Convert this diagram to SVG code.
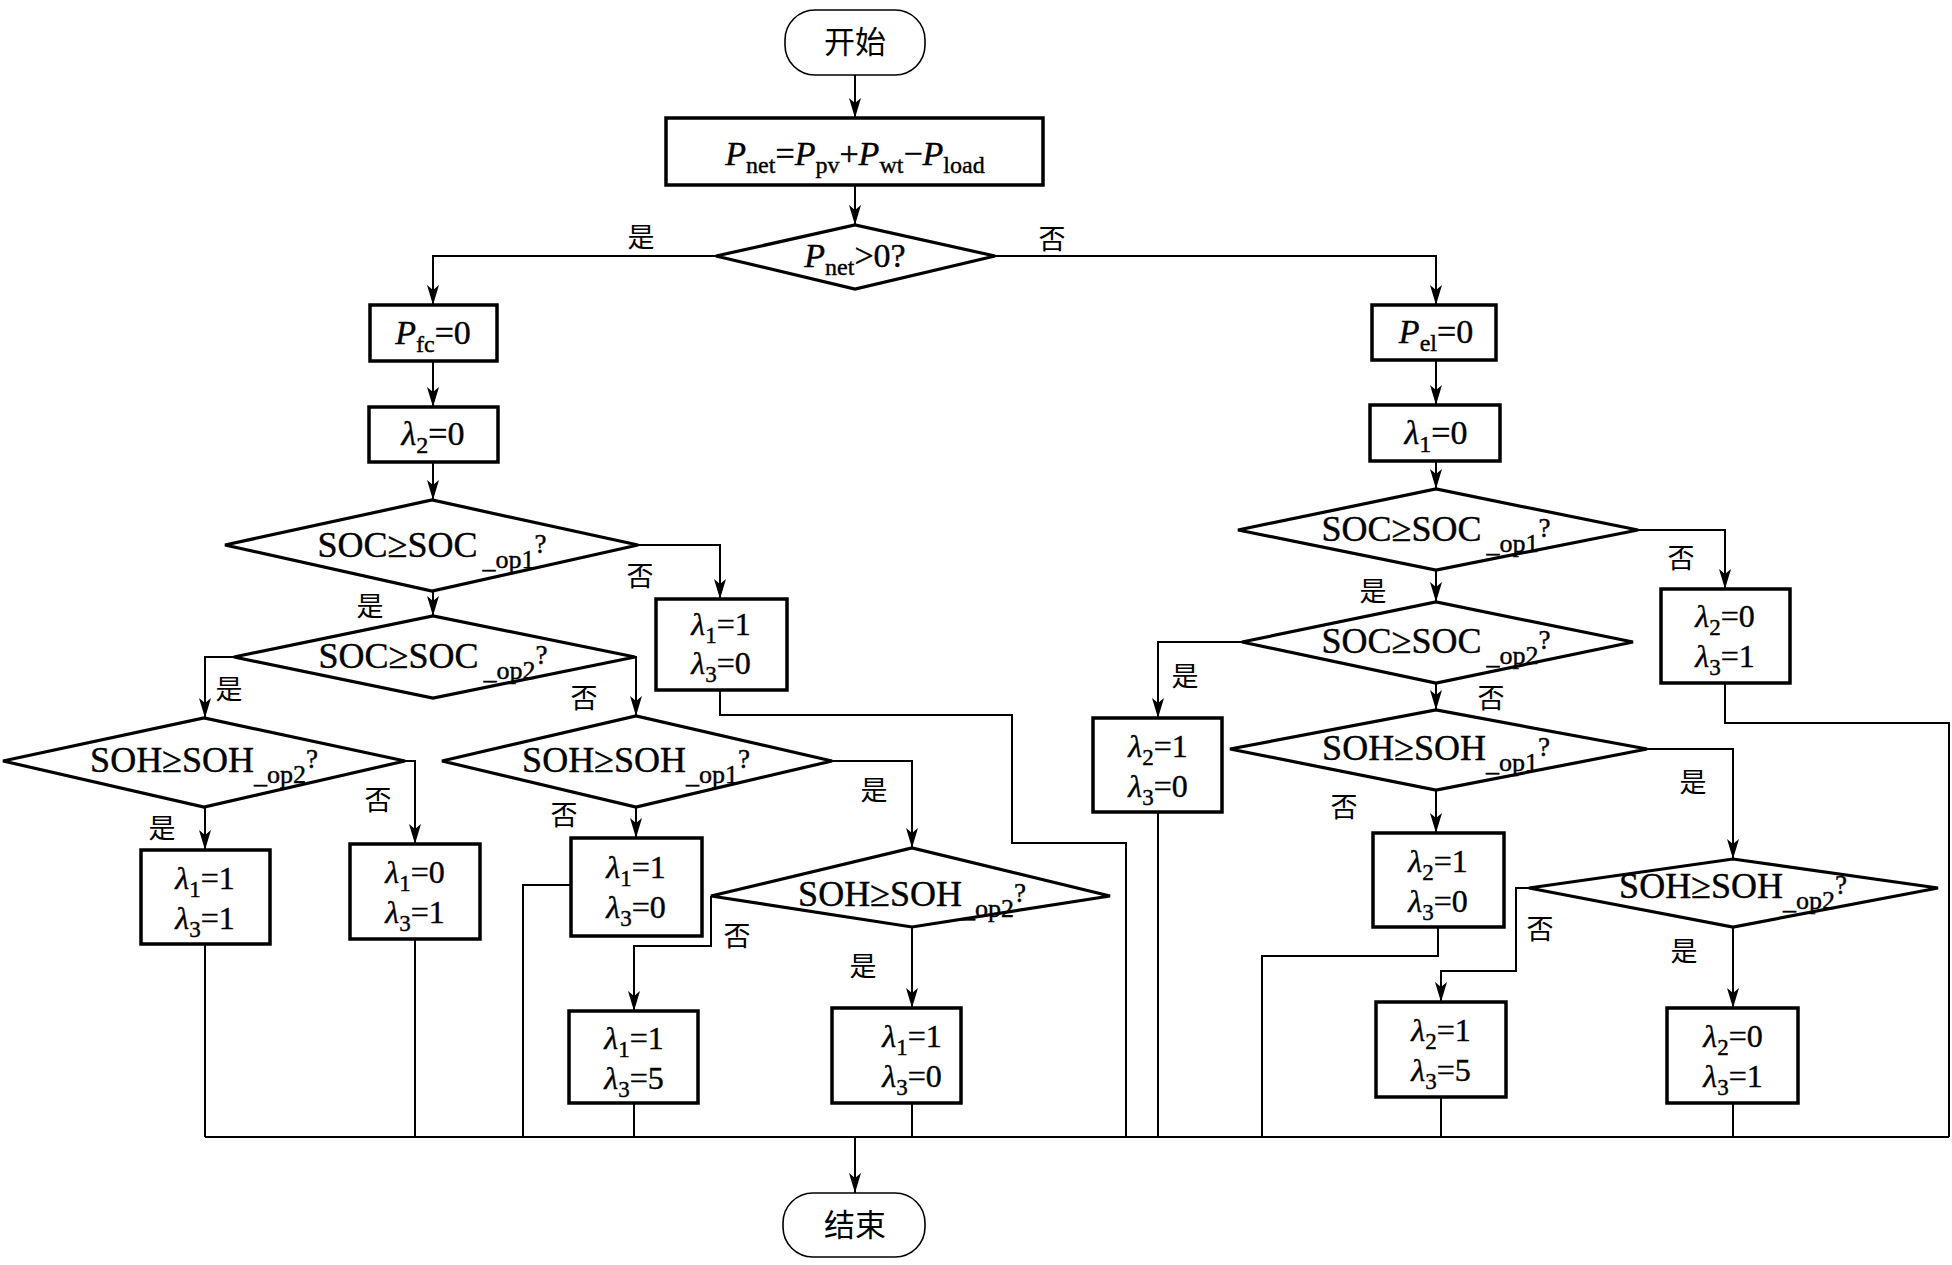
<svg xmlns="http://www.w3.org/2000/svg" width="1952" height="1265" viewBox="0 0 1952 1265">
<defs>
<style>
.box{fill:#fff;stroke:#000;stroke-width:3.5}
.dia{fill:#fff;stroke:#000;stroke-width:3.2;stroke-linejoin:miter}
.term{fill:#fff;stroke:#000;stroke-width:1.6}
.ln{fill:none;stroke:#000;stroke-width:2}
.arr{marker-end:url(#ah)}
text{font-family:"Liberation Serif","Noto Sans CJK SC",serif;fill:#000;stroke:#000;stroke-width:0.4}
.t{font-size:34px;text-anchor:middle}
.d{font-size:36px;text-anchor:middle}
.v{font-size:32px;text-anchor:middle}
.i{font-style:italic}
.sb{font-size:24px}
.sd{font-size:26px}
.sv{font-size:23px}
.q{font-size:27px}
.cn{font-family:"Noto Sans CJK SC",sans-serif;font-size:27px;text-anchor:middle;stroke-width:0}
.cnt{font-family:"Noto Sans CJK SC",sans-serif;font-size:31px;text-anchor:middle;stroke-width:0}
</style>
<marker id="ah" markerUnits="userSpaceOnUse" markerWidth="22" markerHeight="14" refX="20" refY="6" orient="auto">
<path d="M0,0 L20,6 L0,12 L5,6 Z" fill="#000"/>
</marker>
</defs>

<g id="connectors">
<path class="ln arr" d="M855,75 V118"/>
<path class="ln arr" d="M855,185 V225"/>
<path class="ln arr" d="M716,256 H433 V305"/>
<path class="ln arr" d="M995,256 H1436 V305"/>
<path class="ln arr" d="M433,361 V407"/>
<path class="ln arr" d="M433,462 V500"/>
<path class="ln arr" d="M638,545 H720 V599"/>
<path class="ln arr" d="M433,591 V616"/>
<path class="ln arr" d="M234,657 H205 V718"/>
<path class="ln arr" d="M635,657 H636 V716"/>
<path class="ln arr" d="M205,807 V850"/>
<path class="ln arr" d="M405,761 H415 V844"/>
<path class="ln arr" d="M636,807 V838"/>
<path class="ln arr" d="M832,761 H912 V848"/>
<path class="ln arr" d="M711,896 V946 H634 V1011"/>
<path class="ln arr" d="M912,927 V1008"/>
<path class="ln" d="M720,690 V715 H1012 V843 H1126 V1137"/>
<path class="ln" d="M205,944 V1137"/>
<path class="ln" d="M415,939 V1137"/>
<path class="ln" d="M571,885 H523 V1137"/>
<path class="ln" d="M634,1103 V1137"/>
<path class="ln" d="M912,1103 V1137"/>
<path class="ln" d="M205,1137 H1949"/>
<path class="ln arr" d="M855,1137 V1193"/>
<path class="ln arr" d="M1436,360 V405"/>
<path class="ln arr" d="M1436,461 V489"/>
<path class="ln arr" d="M1638,530 H1725 V589"/>
<path class="ln" d="M1725,683 V723 H1949 V1137"/>
<path class="ln arr" d="M1436,570 V602"/>
<path class="ln arr" d="M1242,642 H1158 V718"/>
<path class="ln arr" d="M1436,683 V710"/>
<path class="ln" d="M1158,812 V1137"/>
<path class="ln arr" d="M1436,790 V833"/>
<path class="ln arr" d="M1647,749 H1733 V859"/>
<path class="ln" d="M1438,927 V956 H1262 V1137"/>
<path class="ln arr" d="M1529,888 H1516 V971 H1441 V1002"/>
<path class="ln arr" d="M1733,927 V1008"/>
<path class="ln" d="M1441,1097 V1137"/>
<path class="ln" d="M1733,1103 V1137"/>
</g>

<g id="labels">
<text class="cn" x="641" y="247">是</text>
<text class="cn" x="1052" y="249">否</text>
<text class="cn" x="640" y="586">否</text>
<text class="cn" x="370" y="616">是</text>
<text class="cn" x="229" y="699">是</text>
<text class="cn" x="584" y="708">否</text>
<text class="cn" x="162" y="838">是</text>
<text class="cn" x="378" y="810">否</text>
<text class="cn" x="564" y="825">否</text>
<text class="cn" x="874" y="800">是</text>
<text class="cn" x="737" y="946">否</text>
<text class="cn" x="863" y="976">是</text>
<text class="cn" x="1681" y="568">否</text>
<text class="cn" x="1373" y="601">是</text>
<text class="cn" x="1185" y="686">是</text>
<text class="cn" x="1491" y="708">否</text>
<text class="cn" x="1344" y="817">否</text>
<text class="cn" x="1693" y="792">是</text>
<text class="cn" x="1540" y="939">否</text>
<text class="cn" x="1684" y="961">是</text>
</g>

<g id="start">
<rect class="term" x="785" y="10" width="140" height="65" rx="30" ry="30"/>
<text class="cnt" x="855" y="53">开始</text>
</g>

<g id="pnet">
<rect class="box" x="666" y="118" width="377" height="67"/>
<text class="t" x="855" y="165"><tspan class="i">P</tspan><tspan class="sb" dy="8">net</tspan><tspan dy="-8">=</tspan><tspan class="i">P</tspan><tspan class="sb" dy="8">pv</tspan><tspan dy="-8">+</tspan><tspan class="i">P</tspan><tspan class="sb" dy="8">wt</tspan><tspan dy="-8">−</tspan><tspan class="i">P</tspan><tspan class="sb" dy="8">load</tspan></text>
</g>

<g id="d-pnet">
<polygon class="dia" points="716,256 855,225 995,256 855,289"/>
<text class="t" x="855" y="267"><tspan class="i">P</tspan><tspan class="sb" dy="8">net</tspan><tspan dy="-8">&gt;0?</tspan></text>
</g>

<g id="pfc">
<rect class="box" x="370" y="305" width="127" height="56"/>
<text class="t" x="433" y="344"><tspan class="i">P</tspan><tspan class="sb" dy="8">fc</tspan><tspan dy="-8">=0</tspan></text>
</g>

<g id="l2zero">
<rect class="box" x="369" y="407" width="129" height="55"/>
<text class="t" x="433" y="445"><tspan class="i">λ</tspan><tspan class="sb" dy="8">2</tspan><tspan dy="-8">=0</tspan></text>
</g>

<g id="d-soc1-l">
<polygon class="dia" points="225,545 432,500 638,545 432,591"/>
<text class="d" x="432" y="557">SOC≥SOC<tspan class="sd" dx="5" dy="11">_op1</tspan><tspan class="q" dy="-15">?</tspan></text>
</g>

<g id="b-l1">
<rect class="box" x="656" y="599" width="131" height="91"/>
<text class="v" x="721" y="635"><tspan class="i">λ</tspan><tspan class="sv" dy="8">1</tspan><tspan dy="-8">=1</tspan></text>
<text class="v" x="721" y="674"><tspan class="i">λ</tspan><tspan class="sv" dy="8">3</tspan><tspan dy="-8">=0</tspan></text>
</g>

<g id="d-soc2-l">
<polygon class="dia" points="234,657 433,616 635,657 433,698"/>
<text class="d" x="433" y="668">SOC≥SOC<tspan class="sd" dx="5" dy="11">_op2</tspan><tspan class="q" dy="-15">?</tspan></text>
</g>

<g id="d-soh2-ll">
<polygon class="dia" points="3,761 204,718 405,761 204,807"/>
<text class="d" x="204" y="772">SOH≥SOH<tspan class="sd" dy="11">_op2</tspan><tspan class="q" dy="-15">?</tspan></text>
</g>

<g id="b-l2">
<rect class="box" x="141" y="850" width="129" height="94"/>
<text class="v" x="205" y="889"><tspan class="i">λ</tspan><tspan class="sv" dy="8">1</tspan><tspan dy="-8">=1</tspan></text>
<text class="v" x="205" y="929"><tspan class="i">λ</tspan><tspan class="sv" dy="8">3</tspan><tspan dy="-8">=1</tspan></text>
</g>

<g id="b-l3">
<rect class="box" x="350" y="844" width="130" height="95"/>
<text class="v" x="415" y="883"><tspan class="i">λ</tspan><tspan class="sv" dy="8">1</tspan><tspan dy="-8">=0</tspan></text>
<text class="v" x="415" y="923"><tspan class="i">λ</tspan><tspan class="sv" dy="8">3</tspan><tspan dy="-8">=1</tspan></text>
</g>

<g id="d-soh1-lm">
<polygon class="dia" points="442,761 636,716 832,761 636,807"/>
<text class="d" x="636" y="772">SOH≥SOH<tspan class="sd" dy="11">_op1</tspan><tspan class="q" dy="-15">?</tspan></text>
</g>

<g id="b-l4">
<rect class="box" x="571" y="838" width="131" height="98"/>
<text class="v" x="636" y="878"><tspan class="i">λ</tspan><tspan class="sv" dy="8">1</tspan><tspan dy="-8">=1</tspan></text>
<text class="v" x="636" y="918"><tspan class="i">λ</tspan><tspan class="sv" dy="8">3</tspan><tspan dy="-8">=0</tspan></text>
</g>

<g id="d-soh2-lm">
<polygon class="dia" points="711,896 912,848 1110,896 912,927"/>
<text class="d" x="912" y="906">SOH≥SOH<tspan class="sd" dy="11">_op2</tspan><tspan class="q" dy="-15">?</tspan></text>
</g>

<g id="b-l5">
<rect class="box" x="569" y="1011" width="129" height="92"/>
<text class="v" x="634" y="1049"><tspan class="i">λ</tspan><tspan class="sv" dy="8">1</tspan><tspan dy="-8">=1</tspan></text>
<text class="v" x="634" y="1089"><tspan class="i">λ</tspan><tspan class="sv" dy="8">3</tspan><tspan dy="-8">=5</tspan></text>
</g>

<g id="b-l6">
<rect class="box" x="832" y="1008" width="129" height="95"/>
<text class="v" x="912" y="1047"><tspan class="i">λ</tspan><tspan class="sv" dy="8">1</tspan><tspan dy="-8">=1</tspan></text>
<text class="v" x="912" y="1087"><tspan class="i">λ</tspan><tspan class="sv" dy="8">3</tspan><tspan dy="-8">=0</tspan></text>
</g>

<g id="end">
<rect class="term" x="783" y="1193" width="142" height="64" rx="30" ry="30"/>
<text class="cnt" x="855" y="1236">结束</text>
</g>

<g id="pel">
<rect class="box" x="1372" y="305" width="124" height="55"/>
<text class="t" x="1436" y="343"><tspan class="i">P</tspan><tspan class="sb" dy="8">el</tspan><tspan dy="-8">=0</tspan></text>
</g>

<g id="l1zero">
<rect class="box" x="1370" y="405" width="130" height="56"/>
<text class="t" x="1436" y="444"><tspan class="i">λ</tspan><tspan class="sb" dy="8">1</tspan><tspan dy="-8">=0</tspan></text>
</g>

<g id="d-soc1-r">
<polygon class="dia" points="1238,530 1436,489 1638,530 1436,570"/>
<text class="d" x="1436" y="541">SOC≥SOC<tspan class="sd" dx="5" dy="11">_op1</tspan><tspan class="q" dy="-15">?</tspan></text>
</g>

<g id="b-r1">
<rect class="box" x="1661" y="589" width="129" height="94"/>
<text class="v" x="1725" y="627"><tspan class="i">λ</tspan><tspan class="sv" dy="8">2</tspan><tspan dy="-8">=0</tspan></text>
<text class="v" x="1725" y="667"><tspan class="i">λ</tspan><tspan class="sv" dy="8">3</tspan><tspan dy="-8">=1</tspan></text>
</g>

<g id="d-soc2-r">
<polygon class="dia" points="1242,642 1436,602 1633,642 1436,683"/>
<text class="d" x="1436" y="653">SOC≥SOC<tspan class="sd" dx="5" dy="11">_op2</tspan><tspan class="q" dy="-15">?</tspan></text>
</g>

<g id="b-r2">
<rect class="box" x="1093" y="718" width="129" height="94"/>
<text class="v" x="1158" y="757"><tspan class="i">λ</tspan><tspan class="sv" dy="8">2</tspan><tspan dy="-8">=1</tspan></text>
<text class="v" x="1158" y="797"><tspan class="i">λ</tspan><tspan class="sv" dy="8">3</tspan><tspan dy="-8">=0</tspan></text>
</g>

<g id="d-soh1-r">
<polygon class="dia" points="1230,749 1436,710 1647,749 1436,790"/>
<text class="d" x="1436" y="760">SOH≥SOH<tspan class="sd" dy="11">_op1</tspan><tspan class="q" dy="-15">?</tspan></text>
</g>

<g id="b-r3">
<rect class="box" x="1373" y="833" width="131" height="94"/>
<text class="v" x="1438" y="872"><tspan class="i">λ</tspan><tspan class="sv" dy="8">2</tspan><tspan dy="-8">=1</tspan></text>
<text class="v" x="1438" y="912"><tspan class="i">λ</tspan><tspan class="sv" dy="8">3</tspan><tspan dy="-8">=0</tspan></text>
</g>

<g id="d-soh2-r">
<polygon class="dia" points="1529,888 1733,859 1938,888 1733,927"/>
<text class="d" x="1733" y="898">SOH≥SOH<tspan class="sd" dy="11">_op2</tspan><tspan class="q" dy="-15">?</tspan></text>
</g>

<g id="b-r4">
<rect class="box" x="1376" y="1002" width="130" height="95"/>
<text class="v" x="1441" y="1041"><tspan class="i">λ</tspan><tspan class="sv" dy="8">2</tspan><tspan dy="-8">=1</tspan></text>
<text class="v" x="1441" y="1081"><tspan class="i">λ</tspan><tspan class="sv" dy="8">3</tspan><tspan dy="-8">=5</tspan></text>
</g>

<g id="b-r5">
<rect class="box" x="1667" y="1008" width="131" height="95"/>
<text class="v" x="1733" y="1047"><tspan class="i">λ</tspan><tspan class="sv" dy="8">2</tspan><tspan dy="-8">=0</tspan></text>
<text class="v" x="1733" y="1087"><tspan class="i">λ</tspan><tspan class="sv" dy="8">3</tspan><tspan dy="-8">=1</tspan></text>
</g>
</svg>
